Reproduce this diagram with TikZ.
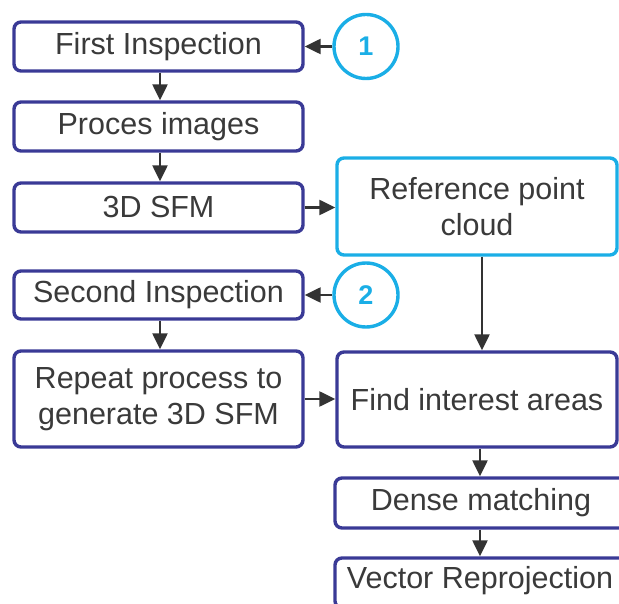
\documentclass[tikz,border=0pt]{standalone}
\usepackage{fontspec}
\setmainfont{Liberation Sans}
\usetikzlibrary{arrows.meta}
\definecolor{boxblue}{HTML}{3A3A96}
\definecolor{lightblue}{HTML}{1AAEE6}
\definecolor{txt}{HTML}{3A3A3A}
\definecolor{arr}{HTML}{333333}
\tikzset{
  box/.style={draw=boxblue, line width=3.4pt, rounded corners=7pt, fill=white,
    inner sep=0pt, text=txt, align=center,
    font=\fontsize{30.5}{36}\selectfont},
  refbox/.style={box, draw=lightblue},
  numcirc/.style={circle, draw=lightblue, line width=3.4pt, minimum size=64pt,
    inner sep=0pt, text=lightblue, font=\fontsize{27}{30}\selectfont\bfseries},
  conn/.style={draw=arr, line width=2.4pt, -{Triangle[length=16pt,width=15pt]}}
}
\begin{document}
\begin{tikzpicture}[x=1pt,y=-1pt]
\useasboundingbox (0,0) rectangle (619,604);
\clip (0,0) rectangle (619,604);
% left column
\node[box, minimum width=289pt, minimum height=49pt] (first) at (158.5,46.5) {First Inspection};
\node[box, minimum width=289pt, minimum height=49pt] (proc) at (158.5,126.5) {Proces images};
\node[box, minimum width=289pt, minimum height=49pt] (sfm) at (158.5,207.5) {3D SFM};
\node[box, minimum width=289pt, minimum height=48pt] (second) at (158.5,295) {Second Inspection};
\node[box, minimum width=289pt, minimum height=96pt] (repeat) at (158.5,399) {Repeat process to\\generate 3D SFM};
% circles
\node[numcirc] (c1) at (366,46.5) {1};
\node[numcirc] (c2) at (366,295) {2};
% right column
\node[refbox, minimum width=280pt, minimum height=97pt] (ref) at (477,206.5) {Reference point\\cloud};
\node[box, minimum width=280pt, minimum height=95pt] (find) at (477,399.5) {Find interest areas};
\node[box, minimum width=292pt, minimum height=50pt] (dense) at (481,503) {Dense matching};
\node[box, minimum width=292pt, minimum height=50pt] (vec) at (481,583) {};
\node[text=txt, font=\fontsize{30.5}{36}\selectfont, inner sep=0pt] (vectxt) at (480,581) {Vector Reprojection};
% connectors
\draw[conn] (first.south -| 160,0) -- (proc.north -| 160,0);
\draw[conn] (proc.south -| 160,0) -- (sfm.north -| 160,0);
\draw[conn] (second.south -| 160,0) -- (repeat.north -| 160,0);
\draw[conn] (c1.west) -- (first.east);
\draw[conn] (c2.west) -- (second.east);
\draw[conn] (sfm.east) -- (ref.west |- sfm.east);
\draw[conn] (repeat.east) -- (find.west |- repeat.east);
\draw[conn] (ref.south -| 482,0) -- (find.north -| 482,0);
\draw[conn] (find.south -| 480,0) -- (dense.north -| 480,0);
\draw[conn] (dense.south -| 480,0) -- (vec.north -| 480,0);
\end{tikzpicture}
\end{document}
